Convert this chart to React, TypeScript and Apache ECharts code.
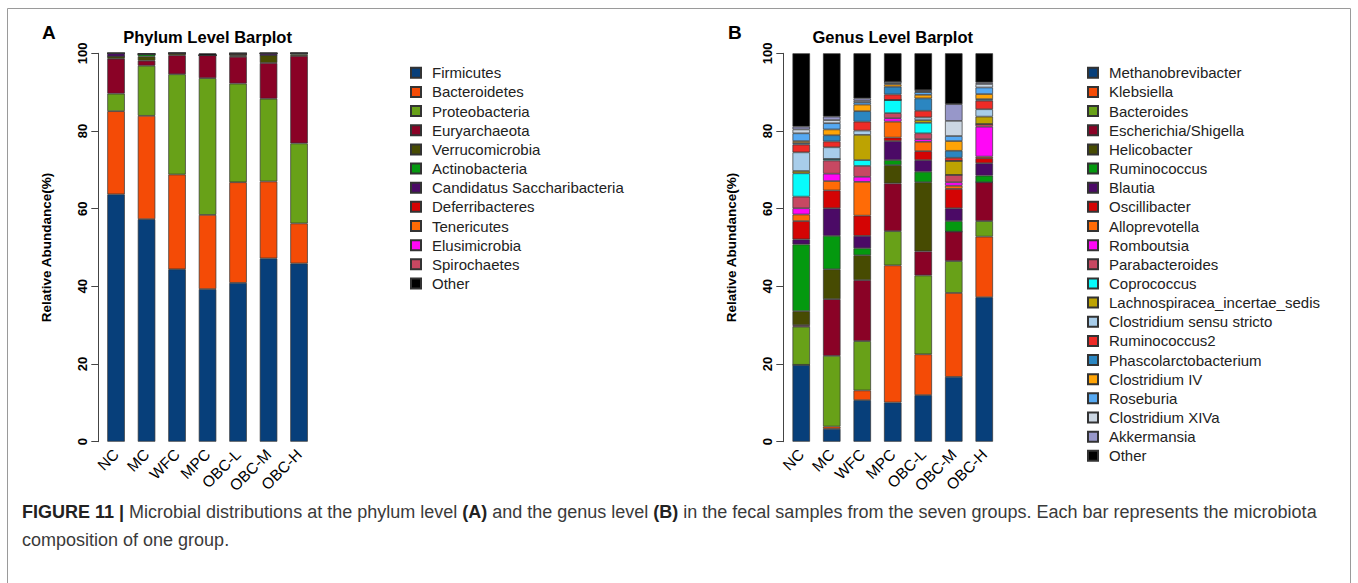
import React, { useEffect, useRef } from "react";
import * as echarts from "echarts";

const groups = ["NC", "MC", "WFC", "MPC", "OBC-L", "OBC-M", "OBC-H"];
const yTicks = [0, 20, 40, 60, 80, 100];

const phylumNames = [
  "Firmicutes", "Bacteroidetes", "Proteobacteria", "Euryarchaeota", "Verrucomicrobia",
  "Actinobacteria", "Candidatus Saccharibacteria", "Deferribacteres", "Tenericutes",
  "Elusimicrobia", "Spirochaetes", "Other",
];
// per-group phylum abundances (%), in phylumNames order
const phylumNC = [63.7, 21.4, 4.5, 9.0, 0.6, 0, 0.8, 0, 0, 0, 0, 0];
const phylumMC = [57.3, 26.6, 12.9, 1.3, 1.1, 0.6, 0, 0, 0, 0, 0, 0.2];
const phylumWFC = [44.4, 24.4, 25.8, 4.9, 0.5, 0, 0, 0, 0, 0, 0, 0];
const phylumMPC = [39.3, 19.1, 35.2, 5.9, 0, 0, 0, 0, 0, 0, 0, 0.5];
const phylumOBCL = [40.9, 25.9, 25.4, 6.9, 0.4, 0.2, 0, 0, 0.3, 0, 0, 0];
const phylumOBCM = [47.2, 19.8, 21.3, 9.2, 2.0, 0, 0.5, 0, 0, 0, 0, 0];
const phylumOBCH = [45.9, 10.3, 20.6, 22.5, 0.4, 0.3, 0, 0, 0, 0, 0, 0];

const genusNames = [
  "Methanobrevibacter", "Klebsiella", "Bacteroides", "Escherichia/Shigella", "Helicobacter",
  "Ruminococcus", "Blautia", "Oscillibacter", "Alloprevotella", "Romboutsia",
  "Parabacteroides", "Coprococcus", "Lachnospiracea_incertae_sedis", "Clostridium sensu stricto",
  "Ruminococcus2", "Phascolarctobacterium", "Clostridium IV", "Roseburia", "Clostridium XIVa",
  "Akkermansia", "Other",
];
// per-group genus abundances (%), in genusNames order
const genusNC = [19.8, 0, 9.8, 0.4, 3.6, 17.2, 1.3, 4.7, 1.7, 1.6, 3.0, 6.0, 0.6, 4.8, 2.0, 0.4, 0.5, 2.0, 1.0, 0.7, 18.9];
const genusMC = [3.3, 0.6, 18.2, 14.6, 7.7, 8.6, 7.1, 4.6, 2.4, 1.9, 3.4, 0.4, 0, 3.0, 1.5, 1.6, 1.5, 1.6, 0.8, 0.9, 16.3];
const genusWFC = [10.7, 2.5, 12.7, 15.7, 6.4, 1.8, 3.2, 5.2, 8.7, 1.3, 2.8, 1.5, 6.5, 1.1, 2.3, 2.7, 1.7, 0.6, 0.4, 0.6, 11.6];
const genusMPC = [10.1, 35.3, 8.8, 12.3, 4.7, 1.3, 4.9, 0.9, 4.1, 0.9, 1.3, 3.4, 0, 0, 1.4, 2.0, 0.6, 0.3, 0.4, 0, 7.3];
const genusOBCL = [12.0, 10.5, 20.3, 6.2, 17.8, 2.7, 3.0, 2.3, 2.4, 0.7, 1.5, 2.7, 0.7, 0.7, 1.7, 3.2, 0.9, 0.7, 0.2, 0.3, 9.5];
const genusOBCM = [16.7, 21.6, 8.2, 7.6, 0, 2.7, 3.3, 5.0, 0.8, 0.9, 1.9, 0, 3.6, 0, 0.8, 1.8, 2.5, 1.3, 3.9, 4.3, 13.1];
const genusOBCH = [37.2, 15.6, 4.0, 10.0, 0, 1.7, 3.2, 1.3, 0.4, 7.7, 0.7, 0, 1.9, 1.9, 2.2, 0.4, 1.3, 1.7, 0.9, 0.4, 7.5];

const palette = [
  "#073F7A", "#F44B06", "#68A118", "#8A0226", "#474B02", "#04990F", "#4B0A66",
  "#D40404", "#FF6B06", "#FF07F6", "#C74862", "#07FBFB", "#BDA302", "#A8CDEA",
  "#EE2B26", "#2B86C1", "#FFA406", "#56A9F2", "#CBD6E2", "#9797C9",
];
const phylumColors = [...palette.slice(0, 11), "#000000"];
const genusColors = [...palette, "#000000"];

const FONT = "'Liberation Sans', Arial, Helvetica, sans-serif";

export default function App() {
  const ref = useRef<HTMLDivElement>(null);
  useEffect(() => {
    if (!ref.current) return;
    const chart = echarts.init(ref.current, null, { renderer: "svg" });
    const phylumTable = [phylumNC, phylumMC, phylumWFC, phylumMPC, phylumOBCL, phylumOBCM, phylumOBCH];
    const genusTable = [genusNC, genusMC, genusWFC, genusMPC, genusOBCL, genusOBCM, genusOBCH];

    const gridTop = 53.3;
    const gridH = 388.4;
    const catW = 30.5;

    const xAxisBase = (gridIndex: number) => ({
      type: "category",
      gridIndex,
      data: groups,
      axisLine: { show: false },
      axisTick: { show: false },
      axisLabel: { rotate: 45, fontSize: 15.5, color: "#000", fontFamily: FONT, margin: 10, interval: 0 },
    });
    const yAxisBase = (gridIndex: number, offset: number) => ({
      type: "value",
      gridIndex,
      min: yTicks[0],
      max: yTicks[yTicks.length - 1],
      interval: 20,
      offset,
      name: "Relative Abundance(%)",
      nameLocation: "middle",
      nameGap: 45,
      nameTextStyle: { fontSize: 13.5, fontWeight: "bold", color: "#000", fontFamily: FONT },
      axisLine: { show: true, lineStyle: { color: "#444", width: 1 } },
      axisTick: { show: true, length: 7, lineStyle: { color: "#444" } },
      axisLabel: { rotate: 90, fontSize: 13, fontWeight: "bold", color: "#000", fontFamily: FONT, margin: 9 },
      splitLine: { show: false },
    });

    const series: any[] = [];
    phylumNames.forEach((name, i) => {
      series.push({
        type: "bar",
        name,
        stack: "phylum",
        xAxisIndex: 0,
        yAxisIndex: 0,
        barWidth: 17.5,
        itemStyle: { color: phylumColors[i], borderColor: "#333", borderWidth: 0.7 },
        data: phylumTable.map((row) => row[i]),
      });
    });
    genusNames.forEach((name, i) => {
      series.push({
        type: "bar",
        name,
        stack: "genus",
        xAxisIndex: 1,
        yAxisIndex: 1,
        barWidth: 17.5,
        itemStyle: { color: genusColors[i], borderColor: "#333", borderWidth: 0.7 },
        data: genusTable.map((row) => row[i]),
      });
    });

    const legendBase = {
      orient: "vertical",
      top: 60.3,
      itemWidth: 10,
      itemHeight: 10,
      itemGap: 4.15,
      icon: "rect",
      selectedMode: false,
      textStyle: { fontSize: 15, color: "#222", fontFamily: FONT, padding: [0, 0, 0, 6] },
    };

    chart.setOption({
      animation: false,
      backgroundColor: "#fff",
      grid: [
        { left: 100.8, top: gridTop, width: catW * 7, height: gridH },
        { left: 786, top: gridTop, width: catW * 7, height: gridH },
      ],
      xAxis: [xAxisBase(0), xAxisBase(1)],
      yAxis: [yAxisBase(0, 2.5), yAxisBase(1, 2.7)],
      legend: [
        { ...legendBase, left: 405, data: phylumNames },
        { ...legendBase, left: 1082, data: genusNames },
      ],
      series,
      graphic: [
        {
          type: "rect",
          silent: true,
          shape: { x: 7.5, y: 8.5, width: 1343, height: 640 },
          style: { fill: "none", stroke: "#9a9a9a", lineWidth: 1 },
        },
        {
          type: "text",
          x: 42,
          y: 32,
          style: { text: "A", font: `bold 19px ${FONT}`, fill: "#000", verticalAlign: "middle" },
        },
        {
          type: "text",
          x: 728,
          y: 32,
          style: { text: "B", font: `bold 19px ${FONT}`, fill: "#000", verticalAlign: "middle" },
        },
        {
          type: "text",
          x: 100.8 + (catW * 7) / 2,
          y: 37,
          style: { text: "Phylum Level Barplot", font: `bold 16.5px ${FONT}`, fill: "#000", align: "center", verticalAlign: "middle" },
        },
        {
          type: "text",
          x: 786 + (catW * 7) / 2,
          y: 37,
          style: { text: "Genus Level Barplot", font: `bold 16.5px ${FONT}`, fill: "#000", align: "center", verticalAlign: "middle" },
        },
        {
          type: "text",
          x: 22,
          y: 512,
          style: {
            text:
              "{b|FIGURE 11 |} Microbial distributions at the phylum level {b|(A)} and the genus level {b|(B)} in the fecal samples from the seven groups. Each bar represents the microbiota",
            fontSize: 18,
            fontFamily: FONT,
            fill: "#3a3a3a",
            verticalAlign: "middle",
            rich: { b: { fontWeight: "bold", fontSize: 18, fontFamily: FONT, fill: "#222" } },
          },
        },
        {
          type: "text",
          x: 22,
          y: 540,
          style: { text: "composition of one group.", fontSize: 18, fontFamily: FONT, fill: "#3a3a3a", verticalAlign: "middle" },
        },
      ],
    });
    return () => chart.dispose();
  }, []);
  return <div ref={ref} style={{ position: "absolute", left: 0, top: 0, width: 1358, height: 583 }} />;
}
